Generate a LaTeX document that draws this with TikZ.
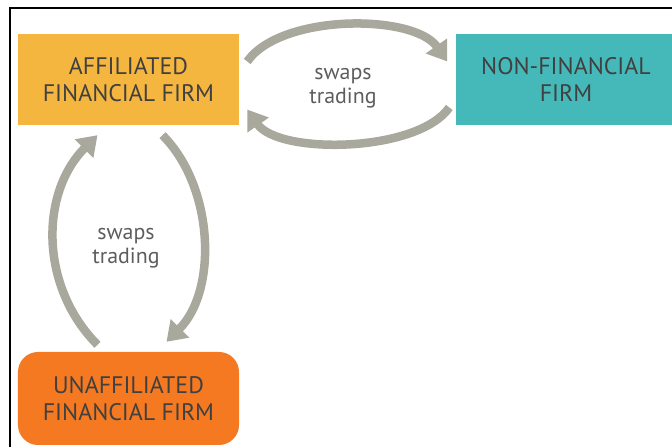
\documentclass[tikz,border=0pt]{standalone}
\usepackage{fontspec}
\setmainfont{PT Sans}
\usetikzlibrary{arrows.meta}

\definecolor{affilgold}{RGB}{244,182,63}
\definecolor{nonfinteal}{RGB}{69,185,185}
\definecolor{unaffilorange}{RGB}{245,121,32}
\definecolor{firmtext}{RGB}{64,64,64}
\definecolor{swapgray}{RGB}{168,168,156}

\tikzset{firm box/.style={
		minimum width=221bp,
		minimum height=91bp,
		inner sep=0pt,
		align=center,
		text=firmtext,
		font=\fontsize{24}{27}\selectfont
	},
	swap arrow/.style={
		draw=swapgray,
		line width=8.5bp,
		-{Triangle[width=25bp,length=19bp]}
	},
	trade label/.style={
		align=center,
		text=firmtext!85,
		font=\fontsize{22}{24}\selectfont
	}
}

\begin{document}
\begin{tikzpicture}[x=1bp, y=1bp]
		\useasboundingbox (0,0) rectangle (672,447);
		% frame
		\draw [black, line width=1.3bp] (10,-5) -- (10,439) -- (690,439);
		% firms
		\node [firm box, fill=affilgold] (affil) at (128.5,367.5) {AFFILIATED\\FINANCIAL FIRM};
		\node [firm box, fill=nonfinteal] (nonfin) at (566,367.5) {NON-FINANCIAL\\FIRM};
		\node [firm box, fill=unaffilorange, minimum height=93bp, rounded corners=20bp] (unaffil) at (128.5,48.5) {UNAFFILIATED\\FINANCIAL FIRM};
		% swaps trading between the firms
		\draw [swap arrow] ([shift={(8,18)}]affil.east) to[out=55, in=125, looseness=0.75] ([shift={(-8,18)}]nonfin.west);
		\draw [swap arrow] ([shift={(-6,-28)}]nonfin.west) to[out=-125, in=-55, looseness=0.7] ([shift={(8,-30)}]affil.east);
		\draw [swap arrow] ([shift={(-31,7)}]unaffil.north) to[out=135, in=-135, looseness=1] ([shift={(-31,-10)}]affil.south);
		\draw [swap arrow] ([shift={(34,-10)}]affil.south) to[out=-45, in=45, looseness=0.9] ([shift={(38,10)}]unaffil.north);
		\node [trade label] (tradeTop) at (343,359) {swaps\\trading};
		\node [trade label] (tradeLeft) at (126,199) {swaps\\trading};
	\end{tikzpicture}
\end{document}
